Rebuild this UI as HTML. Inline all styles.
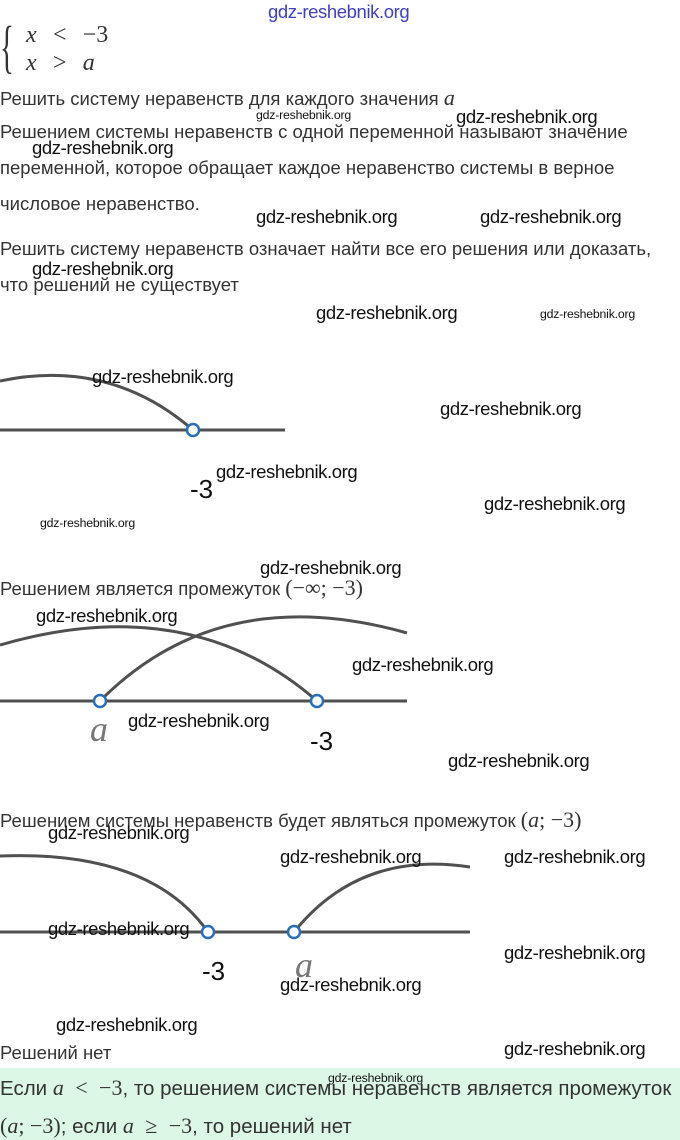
<!DOCTYPE html>
<html><head><meta charset="utf-8"><style>
body{margin:0;width:680px;height:1140px;position:relative;background:#fff;font-family:"Liberation Sans","DejaVu Sans",sans-serif;color:#333;overflow:hidden}
.t{position:absolute;left:0;font-size:18.5px;white-space:nowrap}
.w{position:absolute;font-family:"Liberation Sans",sans-serif;font-size:18.5px;color:#111;white-space:nowrap;letter-spacing:-0.4px}
.ws{font-size:12.3px;letter-spacing:-0.2px}
.m{font-family:"Liberation Serif",serif;font-style:italic;font-size:22px}
.mn{font-family:"Liberation Serif",serif;font-size:22px}
svg{position:absolute;left:0;top:0}
</style></head><body>
<div class="w" style="left:268px;top:1px;color:#4040c0">gdz-reshebnik.org</div>
<div style="position:absolute;left:0px;top:18px;font-family:'Liberation Serif',serif;font-size:58px;color:#333;transform:scaleX(0.5);transform-origin:left;line-height:1">{</div>
<div class="t" style="left:26px;top:22px;word-spacing:3px"><span class="m" style="font-size:24px">x</span>&nbsp;&nbsp;<span class="mn" style="font-size:24px">&lt;</span>&nbsp;&nbsp;<span class="mn" style="font-size:24px">−3</span></div>
<div class="t" style="left:26px;top:50px;word-spacing:3px"><span class="m" style="font-size:24px">x</span>&nbsp;&nbsp;<span class="mn" style="font-size:24px">&gt;</span>&nbsp;&nbsp;<span class="m" style="font-size:24px">a</span></div>
<div class="t" style="top:85px">Решить систему неравенств для каждого значения <span class="m">a</span></div>
<div class="w ws" style="left:256px;top:108px">gdz-reshebnik.org</div>
<div class="w" style="left:456px;top:106px">gdz-reshebnik.org</div>
<div class="t" style="top:121px">Решением системы неравенств с одной переменной называют значение</div>
<div class="w" style="left:32px;top:137px">gdz-reshebnik.org</div>
<div class="t" style="top:157px">переменной, которое обращает каждое неравенство системы в верное</div>
<div class="t" style="top:193px">числовое неравенство.</div>
<div class="w" style="left:256px;top:206px">gdz-reshebnik.org</div>
<div class="w" style="left:480px;top:206px">gdz-reshebnik.org</div>
<div class="t" style="top:238px">Решить систему неравенств означает найти все его решения или доказать,</div>
<div class="w" style="left:32px;top:258px">gdz-reshebnik.org</div>
<div class="t" style="top:274px">что решений не существует</div>
<div class="w" style="left:316px;top:302px">gdz-reshebnik.org</div>
<div class="w ws" style="left:540px;top:307px">gdz-reshebnik.org</div>

<svg width="680" height="1140" fill="none">
<g stroke="#505050" stroke-width="3">
<line x1="0" y1="430" x2="285" y2="430"/>
<path d="M0 381 Q110 358 193 430"/>
<line x1="0" y1="701" x2="407" y2="701"/>
<path d="M0 645 Q190 590 317 701"/>
<path d="M100 701 Q220 580 407 633"/>
<line x1="0" y1="932" x2="470" y2="932"/>
<path d="M0 856 Q150 850 208 932"/>
<path d="M294 932 Q360 850 470 867"/>
</g>
<g stroke="#2a6ebb" stroke-width="2.5" fill="#fff">
<circle cx="193" cy="430" r="6"/>
<circle cx="100" cy="701" r="6"/>
<circle cx="317" cy="701" r="6"/>
<circle cx="208" cy="932" r="6"/>
<circle cx="294" cy="932" r="6"/>
</g>
</svg>
<div class="w" style="left:92px;top:366px">gdz-reshebnik.org</div>
<div class="w" style="left:440px;top:398px">gdz-reshebnik.org</div>
<div style="position:absolute;left:190px;top:474px;font-size:26px;color:#111">-3</div>
<div class="w" style="left:216px;top:461px">gdz-reshebnik.org</div>
<div class="w" style="left:484px;top:493px">gdz-reshebnik.org</div>
<div class="w ws" style="left:40px;top:516px">gdz-reshebnik.org</div>
<div class="w" style="left:260px;top:557px">gdz-reshebnik.org</div>
<div class="t" style="top:575px">Решением является промежуток <span class="mn">(−∞; −3)</span></div>
<div class="w" style="left:36px;top:605px">gdz-reshebnik.org</div>
<div class="w" style="left:352px;top:654px">gdz-reshebnik.org</div>
<div class="w" style="left:128px;top:710px">gdz-reshebnik.org</div>
<div style="position:absolute;left:90px;top:708px;font-family:'Liberation Serif',serif;font-style:italic;font-size:36px;color:#777">a</div>
<div style="position:absolute;left:310px;top:726px;font-size:26px;color:#111">-3</div>
<div class="w" style="left:448px;top:750px">gdz-reshebnik.org</div>
<div class="t" style="top:807px">Решением системы неравенств будет являться промежуток <span class="mn">(<i>a</i>; −3)</span></div>
<div class="w" style="left:48px;top:822px">gdz-reshebnik.org</div>
<div class="w" style="left:280px;top:846px">gdz-reshebnik.org</div>
<div class="w" style="left:504px;top:846px">gdz-reshebnik.org</div>
<div class="w" style="left:48px;top:918px">gdz-reshebnik.org</div>
<div class="w" style="left:504px;top:942px">gdz-reshebnik.org</div>
<div style="position:absolute;left:202px;top:956px;font-size:26px;color:#111">-3</div>
<div style="position:absolute;left:295px;top:944px;font-family:'Liberation Serif',serif;font-style:italic;font-size:36px;color:#777">a</div>
<div class="w" style="left:280px;top:974px">gdz-reshebnik.org</div>
<div class="w" style="left:56px;top:1014px">gdz-reshebnik.org</div>
<div class="t" style="top:1042px">Решений нет</div>
<div class="w" style="left:504px;top:1038px">gdz-reshebnik.org</div>
<div style="position:absolute;left:0;top:1068px;width:680px;height:72px;background:#dcf7e6"></div>
<div class="t" style="top:1075px;font-size:20.5px">Если <span class="m">a</span>&nbsp;&nbsp;<span class="mn">&lt;</span>&nbsp;&nbsp;<span class="mn">−3</span>, то решением системы неравенств является промежуток</div>
<div class="w ws" style="left:328px;top:1071px">gdz-reshebnik.org</div>
<div class="t" style="top:1113px;font-size:20.5px"><span class="mn">(<i>a</i>; −3)</span>; если <span class="m">a</span>&nbsp;&nbsp;<span class="mn">≥</span>&nbsp;&nbsp;<span class="mn">−3</span>, то решений нет</div>
</body></html>
